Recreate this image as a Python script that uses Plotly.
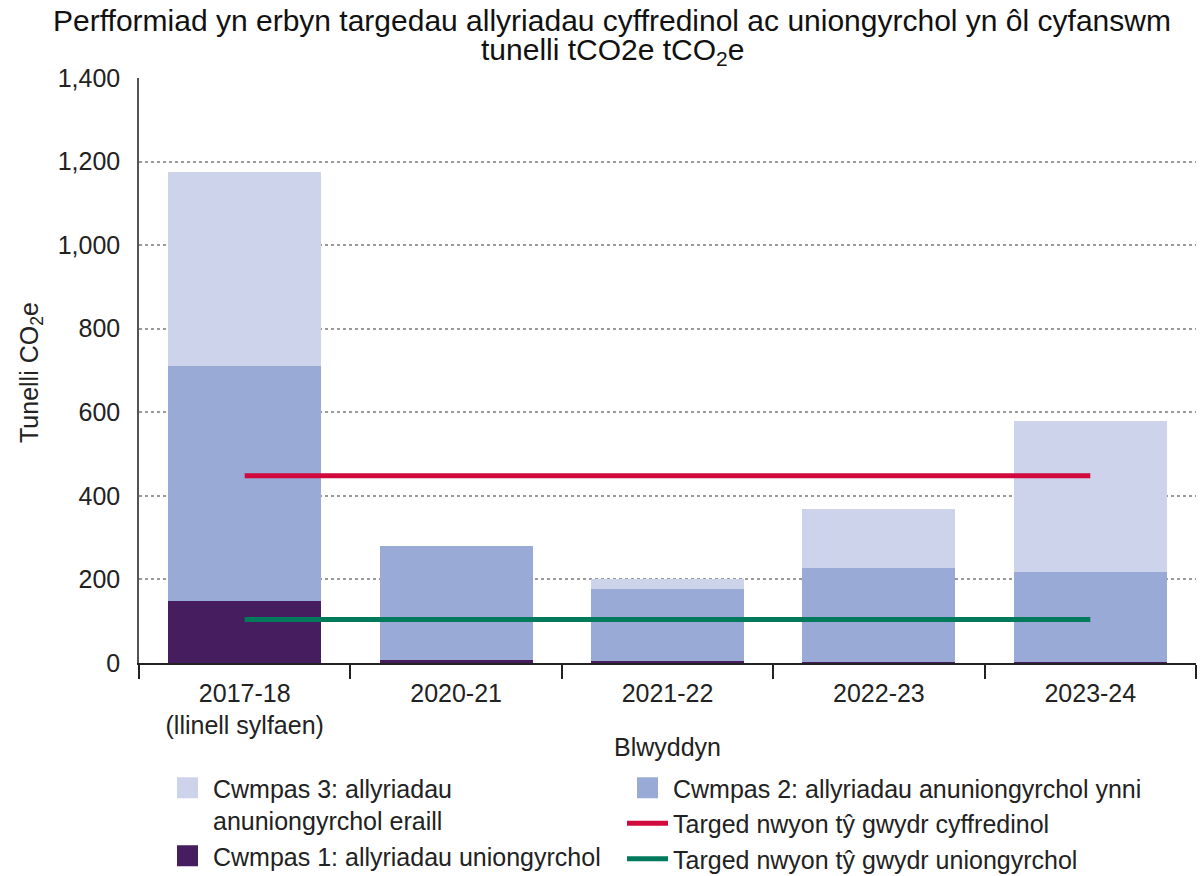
import plotly.graph_objects as go

years = ["2017-18<br>(llinell sylfaen)", "2020-21", "2021-22", "2022-23", "2023-24"]
scope1 = [148, 6, 5, 3, 3]
scope2 = [562, 275, 173, 225, 214]
scope3 = [464, 0, 24, 141, 362]
target_total = [448, 448]
target_direct = [104, 104]
target_x = [years[0], years[-1]]

title_line1 = "Perfformiad yn erbyn targedau allyriadau cyffredinol ac uniongyrchol yn ôl cyfanswm"
title_line2 = "tunelli tCO2e tCO<sub>2</sub>e"
y_title = "Tunelli CO<sub>2</sub>e"
x_title = "Blwyddyn"

name_s3 = "Cwmpas 3: allyriadau<br>anuniongyrchol eraill"
name_s2 = "Cwmpas 2: allyriadau anuniongyrchol ynni"
name_s1 = "Cwmpas 1: allyriadau uniongyrchol"
name_tt = "Targed nwyon tŷ gwydr cyffredinol"
name_td = "Targed nwyon tŷ gwydr uniongyrchol"

c1 = "#461e60"
c2 = "#99aad6"
c3 = "#ced3ec"
cred = "#d10a3e"
cgreen = "#007a5b"

FONT = "Liberation Sans"
TXT = "#222222"
FS = 25

fig = go.Figure()
fig.add_trace(go.Bar(x=years, y=scope1, marker=dict(color=c1, line=dict(width=0)), showlegend=False, name=name_s1))
fig.add_trace(go.Bar(x=years, y=scope2, marker=dict(color=c2, line=dict(width=0)), showlegend=False, name=name_s2))
fig.add_trace(go.Bar(x=years, y=scope3, marker=dict(color=c3, line=dict(width=0)), showlegend=False, name=name_s3))
fig.add_trace(go.Scatter(x=target_x, y=target_total, mode="lines", line=dict(color=cred, width=5), showlegend=False, name=name_tt))
fig.add_trace(go.Scatter(x=target_x, y=target_direct, mode="lines", line=dict(color=cgreen, width=5), showlegend=False, name=name_td))

# legend-only entries (a single empty value, so nothing is drawn in the plot)
def sq(name, color, legend):
    fig.add_trace(go.Scatter(x=[years[0]], y=[None], mode="markers", name=name,
                             legend=legend, showlegend=True, hoverinfo="skip",
                             marker=dict(symbol="square", size=16, color=color, line=dict(color=color, width=5))))

def ln(name, color, legend):
    fig.add_trace(go.Scatter(x=[years[0]], y=[None], mode="lines", name=name,
                             legend=legend, showlegend=True, hoverinfo="skip",
                             line=dict(color=color, width=5)))

sq(name_s3, c3, "legend")
sq(name_s1, c1, "legend")
sq(name_s2, c2, "legend2")
ln(name_tt, cred, "legend2")
ln(name_td, cgreen, "legend2")

leg_common = dict(font=dict(family=FONT, size=FS, color=TXT), bgcolor="rgba(0,0,0,0)",
                  xref="container", yref="container", xanchor="left", yanchor="top",
                  itemsizing="trace", tracegroupgap=0, traceorder="normal", orientation="v",
                  itemwidth=41, valign="top")

fig.update_layout(
    width=1200, height=876,
    paper_bgcolor="white", plot_bgcolor="white",
    margin=dict(l=139, r=4, t=78, b=213, autoexpand=False),
    font=dict(family=FONT, color=TXT),
    barmode="stack", bargap=0.276,
    title=dict(text=title_line1,
               x=612/1200, xanchor="center", xref="container", y=1 - 10/876, yanchor="top", yref="container",
               font=dict(family=FONT, size=30, color="#111111")),
    annotations=[
        dict(text=title_line2, xref="paper", yref="paper",
             x=(612 - 139) / 1057, y=1 + (78 - 52) / 585, xanchor="center", yanchor="middle",
             showarrow=False, font=dict(family=FONT, size=30, color="#111111")),
        dict(text=y_title, xref="paper", yref="paper", textangle=-90,
             x=(31 - 139) / 1057, y=(663 - 373) / 585, xanchor="center", yanchor="middle",
             showarrow=False, font=dict(family=FONT, size=FS, color=TXT)),
    ],
    xaxis=dict(type="category", tickson="boundaries", ticks="outside", ticklen=14, tickcolor="#222", tickwidth=1.5,
               showline=True, linecolor="#222", linewidth=1.5, tickangle=0, ticklabelstandoff=7,
               tickfont=dict(family=FONT, size=FS, color=TXT),
               title=dict(text=x_title, font=dict(family=FONT, size=FS, color=TXT), standoff=0)),
    yaxis=dict(range=[0, 1400], dtick=200, tickformat=",", showgrid=True, gridcolor="#9a9a9a",
               griddash="dot", gridwidth=1.5, zeroline=False,
               showline=True, linecolor="#555", linewidth=1.5, ticks="",
               tickfont=dict(family=FONT, size=FS, color=TXT), ticklabelstandoff=12),
    legend=dict(x=162/1200, y=1 - 765/876, **leg_common),
    legend2=dict(x=622/1200, y=1 - 765/876, **leg_common),
)

fig.write_html("out.html", config={"displayModeBar": False},
               post_script="document.body.style.margin='0';document.body.style.overflow='hidden';")
